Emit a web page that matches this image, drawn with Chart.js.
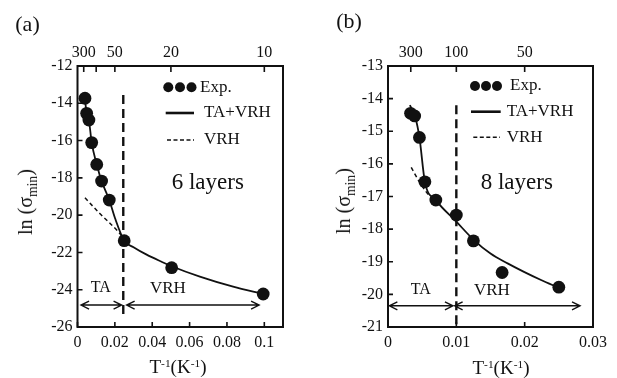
<!DOCTYPE html>
<html><head><meta charset="utf-8">
<script src="https://cdn.jsdelivr.net/npm/chart.js@4"></script>
<style>
html,body{margin:0;padding:0;background:#fff}
body{width:617px;height:378px;overflow:hidden;position:relative;font-family:"Liberation Serif","Times New Roman",serif;color:#111}
.cv{position:absolute;top:0}
.t{position:absolute;white-space:nowrap;transform:translate(-50%,-50%);line-height:1}
.sup{font-size:0.6em;position:relative;top:-0.55em}
.sub{font-size:0.68em;position:relative;top:0.35em}
</style></head><body>
<canvas id="ca" class="cv" style="left:0" width="310" height="378"></canvas>
<canvas id="cb" class="cv" style="left:310px" width="307" height="378"></canvas>
<div class="t" style="left:27.5px;top:24px;font-size:22px">(a)</div>
<div class="t" style="left:349px;top:21px;font-size:22px">(b)</div>
<div class="t" style="left:25px;top:202px;font-size:20px;transform:translate(-50%,-50%) rotate(-90deg)">ln (σ<span class="sub">min</span>)</div>
<div class="t" style="left:343px;top:201px;font-size:20px;transform:translate(-50%,-50%) rotate(-90deg)">ln (σ<span class="sub">min</span>)</div>
<div class="t" style="left:178px;top:366px;font-size:19px">T<span class="sup">-1</span>(K<span class="sup">-1</span>)</div>
<div class="t" style="left:501px;top:367px;font-size:19px">T<span class="sup">-1</span>(K<span class="sup">-1</span>)</div>
<script>
// ---------- Panel (a): 6 layers ----------
const xTicksA = [0, 0.02, 0.04, 0.06, 0.08, 0.1];
const yTicksA = [-12, -14, -16, -18, -20, -22, -24, -26];
const topTempsA = [300, 100, 50, 20, 10];
const topLabelsA = ['300', '', '50', '20', '10'];
const expXA = [0.0040, 0.0049, 0.0061, 0.0076, 0.0103, 0.0129, 0.0170, 0.0250, 0.0504, 0.0994];
const expYA = [-13.73, -14.54, -14.90, -16.11, -17.28, -18.17, -19.19, -21.37, -22.82, -24.23];
const fitXA = [0.0038, 0.0049, 0.0061, 0.0076, 0.0103, 0.0129, 0.0170, 0.0201, 0.0250, 0.0300, 0.0370, 0.0450, 0.0504, 0.0655, 0.0833, 0.0994];
const fitYA = [-13.60, -14.54, -14.90, -16.11, -17.28, -18.17, -19.19, -20.17, -21.37, -21.72, -22.12, -22.50, -22.74, -23.30, -23.84, -24.23];
const vrhXA = [0.0040, 0.0118, 0.0218, 0.0250];
const vrhYA = [-19.07, -19.90, -20.89, -21.30];
const boundaryXA = [0.0245, 0.0245];
const boundaryYA = [-13.55, -25.5];
const taArrowA = [0.0019, 0.0236];
const vrhArrowA = [0.0263, 0.0972];
const arrowYA = -24.82;

// ---------- Panel (b): 8 layers ----------
const xTicksB = [0, 0.01, 0.02, 0.03];
const yTicksB = [-13, -14, -15, -16, -17, -18, -19, -20, -21];
const topTempsB = [300, 100, 50];
const topLabelsB = ['300', '100', '50'];
const expXB = [0.0033, 0.0039, 0.0046, 0.0054, 0.0070, 0.0100, 0.0125, 0.0167, 0.0250];
const expYB = [-14.45, -14.53, -15.19, -16.55, -17.11, -17.57, -18.36, -19.33, -19.78];
const fitXB = [0.0032, 0.0040, 0.0046, 0.0054, 0.0070, 0.0100, 0.0125, 0.0150, 0.0175, 0.0199, 0.0224, 0.0250];
const fitYB = [-14.20, -14.58, -15.19, -16.55, -17.11, -17.77, -18.32, -18.75, -19.05, -19.31, -19.56, -19.80];
const vrhXB = [0.0034, 0.0048, 0.0062, 0.0075];
const vrhYB = [-16.11, -16.62, -17.01, -17.22];
const boundaryXB = [0.0100, 0.0100];
const boundaryYB = [-14.2, -21.0];
const taArrowB = [0.0002, 0.0095];
const vrhArrowB = [0.00975, 0.0281];
const arrowYB = -20.35;

const FONT = '"Liberation Serif","Times New Roman",serif';
const INK = '#111';
const pts = (xs, ys) => xs.map((x, i) => ({x, y: ys[i]}));

const decor = {
  id: 'decor',
  afterDatasetsDraw(chart, args, o) {
    const {ctx, chartArea: a, scales} = chart;
    const x = scales.x, y = scales.y, x2 = scales.x2;
    ctx.save();
    ctx.strokeStyle = INK; ctx.fillStyle = INK;
    // frame
    ctx.lineWidth = 2;
    ctx.strokeRect(a.left, a.top, a.right - a.left, a.bottom - a.top);
    // inward ticks
    ctx.lineWidth = 1.6;
    ctx.beginPath();
    x.ticks.forEach(t => { const p = x.getPixelForValue(t.value); ctx.moveTo(p, a.bottom); ctx.lineTo(p, a.bottom - 5); });
    x2.ticks.forEach(t => { const p = x2.getPixelForValue(t.value); ctx.moveTo(p, a.top); ctx.lineTo(p, a.top + 6); });
    y.ticks.forEach(t => { const p = y.getPixelForValue(t.value); ctx.moveTo(a.left, p); ctx.lineTo(a.left + 5, p); });
    ctx.stroke();
    // arrows
    ctx.lineWidth = 1.4;
    const ay = y.getPixelForValue(o.arrowY);
    const arrow = (r) => {
      const p0 = x.getPixelForValue(r[0]), p1 = x.getPixelForValue(r[1]);
      ctx.beginPath();
      ctx.moveTo(p0, ay); ctx.lineTo(p1, ay);
      ctx.moveTo(p0 + 8, ay - 4); ctx.lineTo(p0, ay); ctx.lineTo(p0 + 8, ay + 4);
      ctx.moveTo(p1 - 8, ay - 4); ctx.lineTo(p1, ay); ctx.lineTo(p1 - 8, ay + 4);
      ctx.stroke();
    };
    arrow(o.ta); arrow(o.vrh);
    ctx.textAlign = 'center'; ctx.textBaseline = 'middle';
    ctx.font = '16px ' + FONT;
    ctx.fillText('TA', x.getPixelForValue(o.taText[0]), y.getPixelForValue(o.taText[1]));
    ctx.font = '17px ' + FONT;
    ctx.fillText('VRH', x.getPixelForValue(o.vrhText[0]), y.getPixelForValue(o.vrhText[1]));
    // legend
    const L = o.legend, lx = a.left, ly = a.top;
    L.dots.forEach(d => { ctx.beginPath(); ctx.arc(lx + d, ly + L.y1, 5, 0, Math.PI * 2); ctx.fill(); });
    ctx.lineWidth = 2.6;
    ctx.beginPath(); ctx.moveTo(lx + L.line[0], ly + L.y2); ctx.lineTo(lx + L.line[1], ly + L.y2); ctx.stroke();
    ctx.lineWidth = 1.4; ctx.setLineDash([4, 2.5]);
    ctx.beginPath(); ctx.moveTo(lx + L.dash[0], ly + L.y3); ctx.lineTo(lx + L.dash[1], ly + L.y3); ctx.stroke();
    ctx.setLineDash([]);
    ctx.textAlign = 'left'; ctx.font = '17px ' + FONT;
    ctx.fillText('Exp.', lx + L.tx1, ly + L.y1);
    ctx.fillText('TA+VRH', lx + L.tx2, ly + L.y2);
    ctx.fillText('VRH', lx + L.tx2, ly + L.y3);
    ctx.font = '23px ' + FONT;
    ctx.fillText(o.layers, lx + L.lay[0], ly + L.lay[1]);
    ctx.restore();
  }
};

function makeChart(id, P) {
  const tickFont = {family: FONT, size: 16};
  return new Chart(document.getElementById(id), {
    type: 'scatter',
    data: {
      datasets: [
        {label: 'Exp.', data: pts(P.expX, P.expY), pointRadius: 6.4, pointHoverRadius: 6.4,
         backgroundColor: INK, borderColor: INK, borderWidth: 0, showLine: false, order: 0},
        {label: 'TA+VRH', data: pts(P.fitX, P.fitY), showLine: true, pointRadius: 0,
         borderColor: INK, borderWidth: 1.8, cubicInterpolationMode: 'monotone', order: 1},
        {label: 'VRH', data: pts(P.vrhX, P.vrhY), showLine: true, pointRadius: 0,
         borderColor: INK, borderWidth: 1.5, borderDash: [4, 3], cubicInterpolationMode: 'monotone', order: 2},
        {label: 'boundary', data: pts(P.bX, P.bY), showLine: true, pointRadius: 0,
         borderColor: INK, borderWidth: 2.4, borderDash: [9, 5], order: 3}
      ]
    },
    options: {
      responsive: false, animation: false, devicePixelRatio: 1,
      layout: {padding: {left: 0, right: P.padRight, top: 0, bottom: 0}},
      plugins: {legend: {display: false}, tooltip: {enabled: false}, decor: P.decor},
      scales: {
        x: {type: 'linear', position: 'bottom', min: P.xMin, max: P.xMax,
            grid: {display: false, drawTicks: false}, border: {display: false},
            afterBuildTicks: s => { s.ticks = P.xTicks.map(v => ({value: v})); },
            afterFit: s => { s.height = 51; },
            ticks: {font: tickFont, color: INK, padding: 6, autoSkip: false, maxRotation: 0, callback: v => String(v)}},
        x2: {type: 'linear', position: 'top', min: P.xMin, max: P.xMax,
            grid: {display: false, drawTicks: false}, border: {display: false},
            afterBuildTicks: s => { s.ticks = P.topTemps.map(T => ({value: 1 / T})); },
            afterFit: s => { s.height = 66; },
            ticks: {font: tickFont, color: INK, padding: 4, autoSkip: false, maxRotation: 0,
                    callback: (v, i) => P.topLabels[i]}},
        y: {type: 'linear', position: 'left', min: P.yMin, max: P.yMax,
            grid: {display: false, drawTicks: false}, border: {display: false},
            afterBuildTicks: s => { s.ticks = P.yTicks.map(v => ({value: v})); },
            afterFit: s => { s.width = P.yWidth; },
            ticks: {font: tickFont, color: INK, padding: 5, autoSkip: false, callback: v => String(v)}}
      }
    },
    plugins: [decor]
  });
}

makeChart('ca', {
  expX: expXA, expY: expYA, fitX: fitXA, fitY: fitYA, vrhX: vrhXA, vrhY: vrhYA,
  bX: boundaryXA, bY: boundaryYA, xTicks: xTicksA, yTicks: yTicksA, topTemps: topTempsA, topLabels: topLabelsA,
  xMin: 0, xMax: 0.11, yMin: -26, yMax: -12, yWidth: 77.5, padRight: 27,
  decor: {arrowY: arrowYA, ta: taArrowA, vrh: vrhArrowA, taText: [0.0125, -23.92], vrhText: [0.0484, -23.92],
    layers: '6 layers',
    legend: {dots: [90.8, 102.5, 114], y1: 21.3, line: [88.2, 116.5], y2: 47, dash: [89.5, 116.5], y3: 74,
             tx1: 122.5, tx2: 126.5, lay: [94.2, 116.7]}}
});

makeChart('cb', {
  expX: expXB, expY: expYB, fitX: fitXB, fitY: fitYB, vrhX: vrhXB, vrhY: vrhYB,
  bX: boundaryXB, bY: boundaryYB, xTicks: xTicksB, yTicks: yTicksB, topTemps: topTempsB, topLabels: topLabelsB,
  xMin: 0, xMax: 0.03, yMin: -21, yMax: -13, yWidth: 78, padRight: 24,
  decor: {arrowY: arrowYB, ta: taArrowB, vrh: vrhArrowB, taText: [0.0048, -19.87], vrhText: [0.0152, -19.87],
    layers: '8 layers',
    legend: {dots: [87, 98, 109], y1: 20, line: [83, 112.7], y2: 45.7, dash: [85.3, 112], y3: 71.3,
             tx1: 122, tx2: 118.7, lay: [92.7, 116.7]}}
});
</script>
</body></html>
